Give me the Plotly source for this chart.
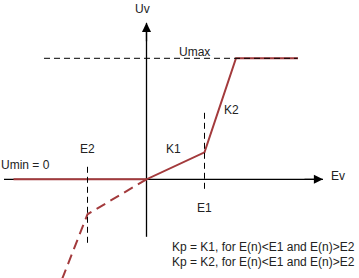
import plotly.graph_objects as go

# Characteristic curve (units relative to origin)
E1 = 58
E2 = -59
UMAX = 121
K1_AT_E1 = 27
K2_END_X = 89.5
SAT_END_X = 151.5
UMIN_START_X = -133

solid_x = [UMIN_START_X, 0, E1, K2_END_X, SAT_END_X]
solid_y = [0, 0, K1_AT_E1, UMAX, UMAX]

dashed_x = [0, E2, -84.5]
dashed_y = [0, -35, -100]

# Axes extents
ev_axis_x = [-142.5, 176.5]
uv_axis_y = [-57.5, 156.5]
umax_guide_x = [-102.5, 151]
e1_guide_y = [66.5, -12.5]
e2_guide_y = [12.5, -66.5]

labels = ["Uv", "Umax", "K2", "K1", "Ev", "E1", "E2", "Umin = 0"]
label_x = [-4.5, 47.5, 85, 26.5, 191, 57.5, -59.5, -121.5]
label_y = [170.5, 127.5, 69, 30.5, 3, -28.5, 30.5, 14.5]

notes = ["Kp = K1, for E(n)<E1 and E(n)>E2",
         "Kp = K2, for E(n)<E1 and E(n)>E2"]
note_x = [210.5, 210.5]
note_y = [-68, -83]

RED = "#a33a3c"
BLACK = "#000000"
TXT = "#222222"
FONT = "Liberation Sans, Arial, sans-serif"

fig = go.Figure()

# axes lines
fig.add_trace(go.Scatter(x=ev_axis_x, y=[0, 0], mode="lines",
                         line=dict(color=BLACK, width=1.3), hoverinfo="skip"))
fig.add_trace(go.Scatter(x=[0, 0], y=uv_axis_y, mode="lines",
                         line=dict(color=BLACK, width=1.3), hoverinfo="skip"))

# red curve
fig.add_trace(go.Scatter(x=solid_x, y=solid_y, mode="lines",
                         line=dict(color=RED, width=2), hoverinfo="skip"))
fig.add_trace(go.Scatter(x=dashed_x, y=dashed_y, mode="lines",
                         line=dict(color=RED, width=2, dash="10px,6px"),
                         hoverinfo="skip"))

# dashed guides
fig.add_trace(go.Scatter(x=umax_guide_x, y=[UMAX, UMAX], mode="lines",
                         line=dict(color=BLACK, width=1, dash="6px,4px"),
                         hoverinfo="skip"))
fig.add_trace(go.Scatter(x=[E1, E1], y=e1_guide_y, mode="lines",
                         line=dict(color=BLACK, width=1, dash="6px,4px"),
                         hoverinfo="skip"))
fig.add_trace(go.Scatter(x=[E2, E2], y=e2_guide_y, mode="lines",
                         line=dict(color=BLACK, width=1, dash="6px,4px"),
                         hoverinfo="skip"))

annotations = []
# arrow heads
annotations.append(dict(x=ev_axis_x[1], y=0, ax=ev_axis_x[1] - 20, ay=0,
                        xref="x", yref="y", axref="x", ayref="y",
                        showarrow=True, arrowhead=2, arrowsize=1.4,
                        arrowwidth=1.3, arrowcolor=BLACK, text=""))
annotations.append(dict(x=0, y=uv_axis_y[1], ax=0, ay=uv_axis_y[1] - 20,
                        xref="x", yref="y", axref="x", ayref="y",
                        showarrow=True, arrowhead=2, arrowsize=1.4,
                        arrowwidth=1.3, arrowcolor=BLACK, text=""))

for t, x, y in zip(labels, label_x, label_y):
    annotations.append(dict(x=x, y=y, text=t, showarrow=False, xref="x", yref="y",
                            font=dict(family=FONT, size=12, color=TXT)))
for t, x, y in zip(notes, note_x, note_y):
    annotations.append(dict(x=x, y=y, text=t, showarrow=False, xref="x", yref="y",
                            xanchor="right",
                            font=dict(family=FONT, size=12, color=TXT)))

fig.update_layout(
    width=359, height=278,
    margin=dict(l=0, r=0, t=0, b=0),
    paper_bgcolor="white", plot_bgcolor="white",
    showlegend=False,
    xaxis=dict(range=[-146.5, 212.5], visible=False, fixedrange=True),
    yaxis=dict(range=[-98.7, 179.3], visible=False, fixedrange=True),
    annotations=annotations,
)

fig.write_html("out.html")
